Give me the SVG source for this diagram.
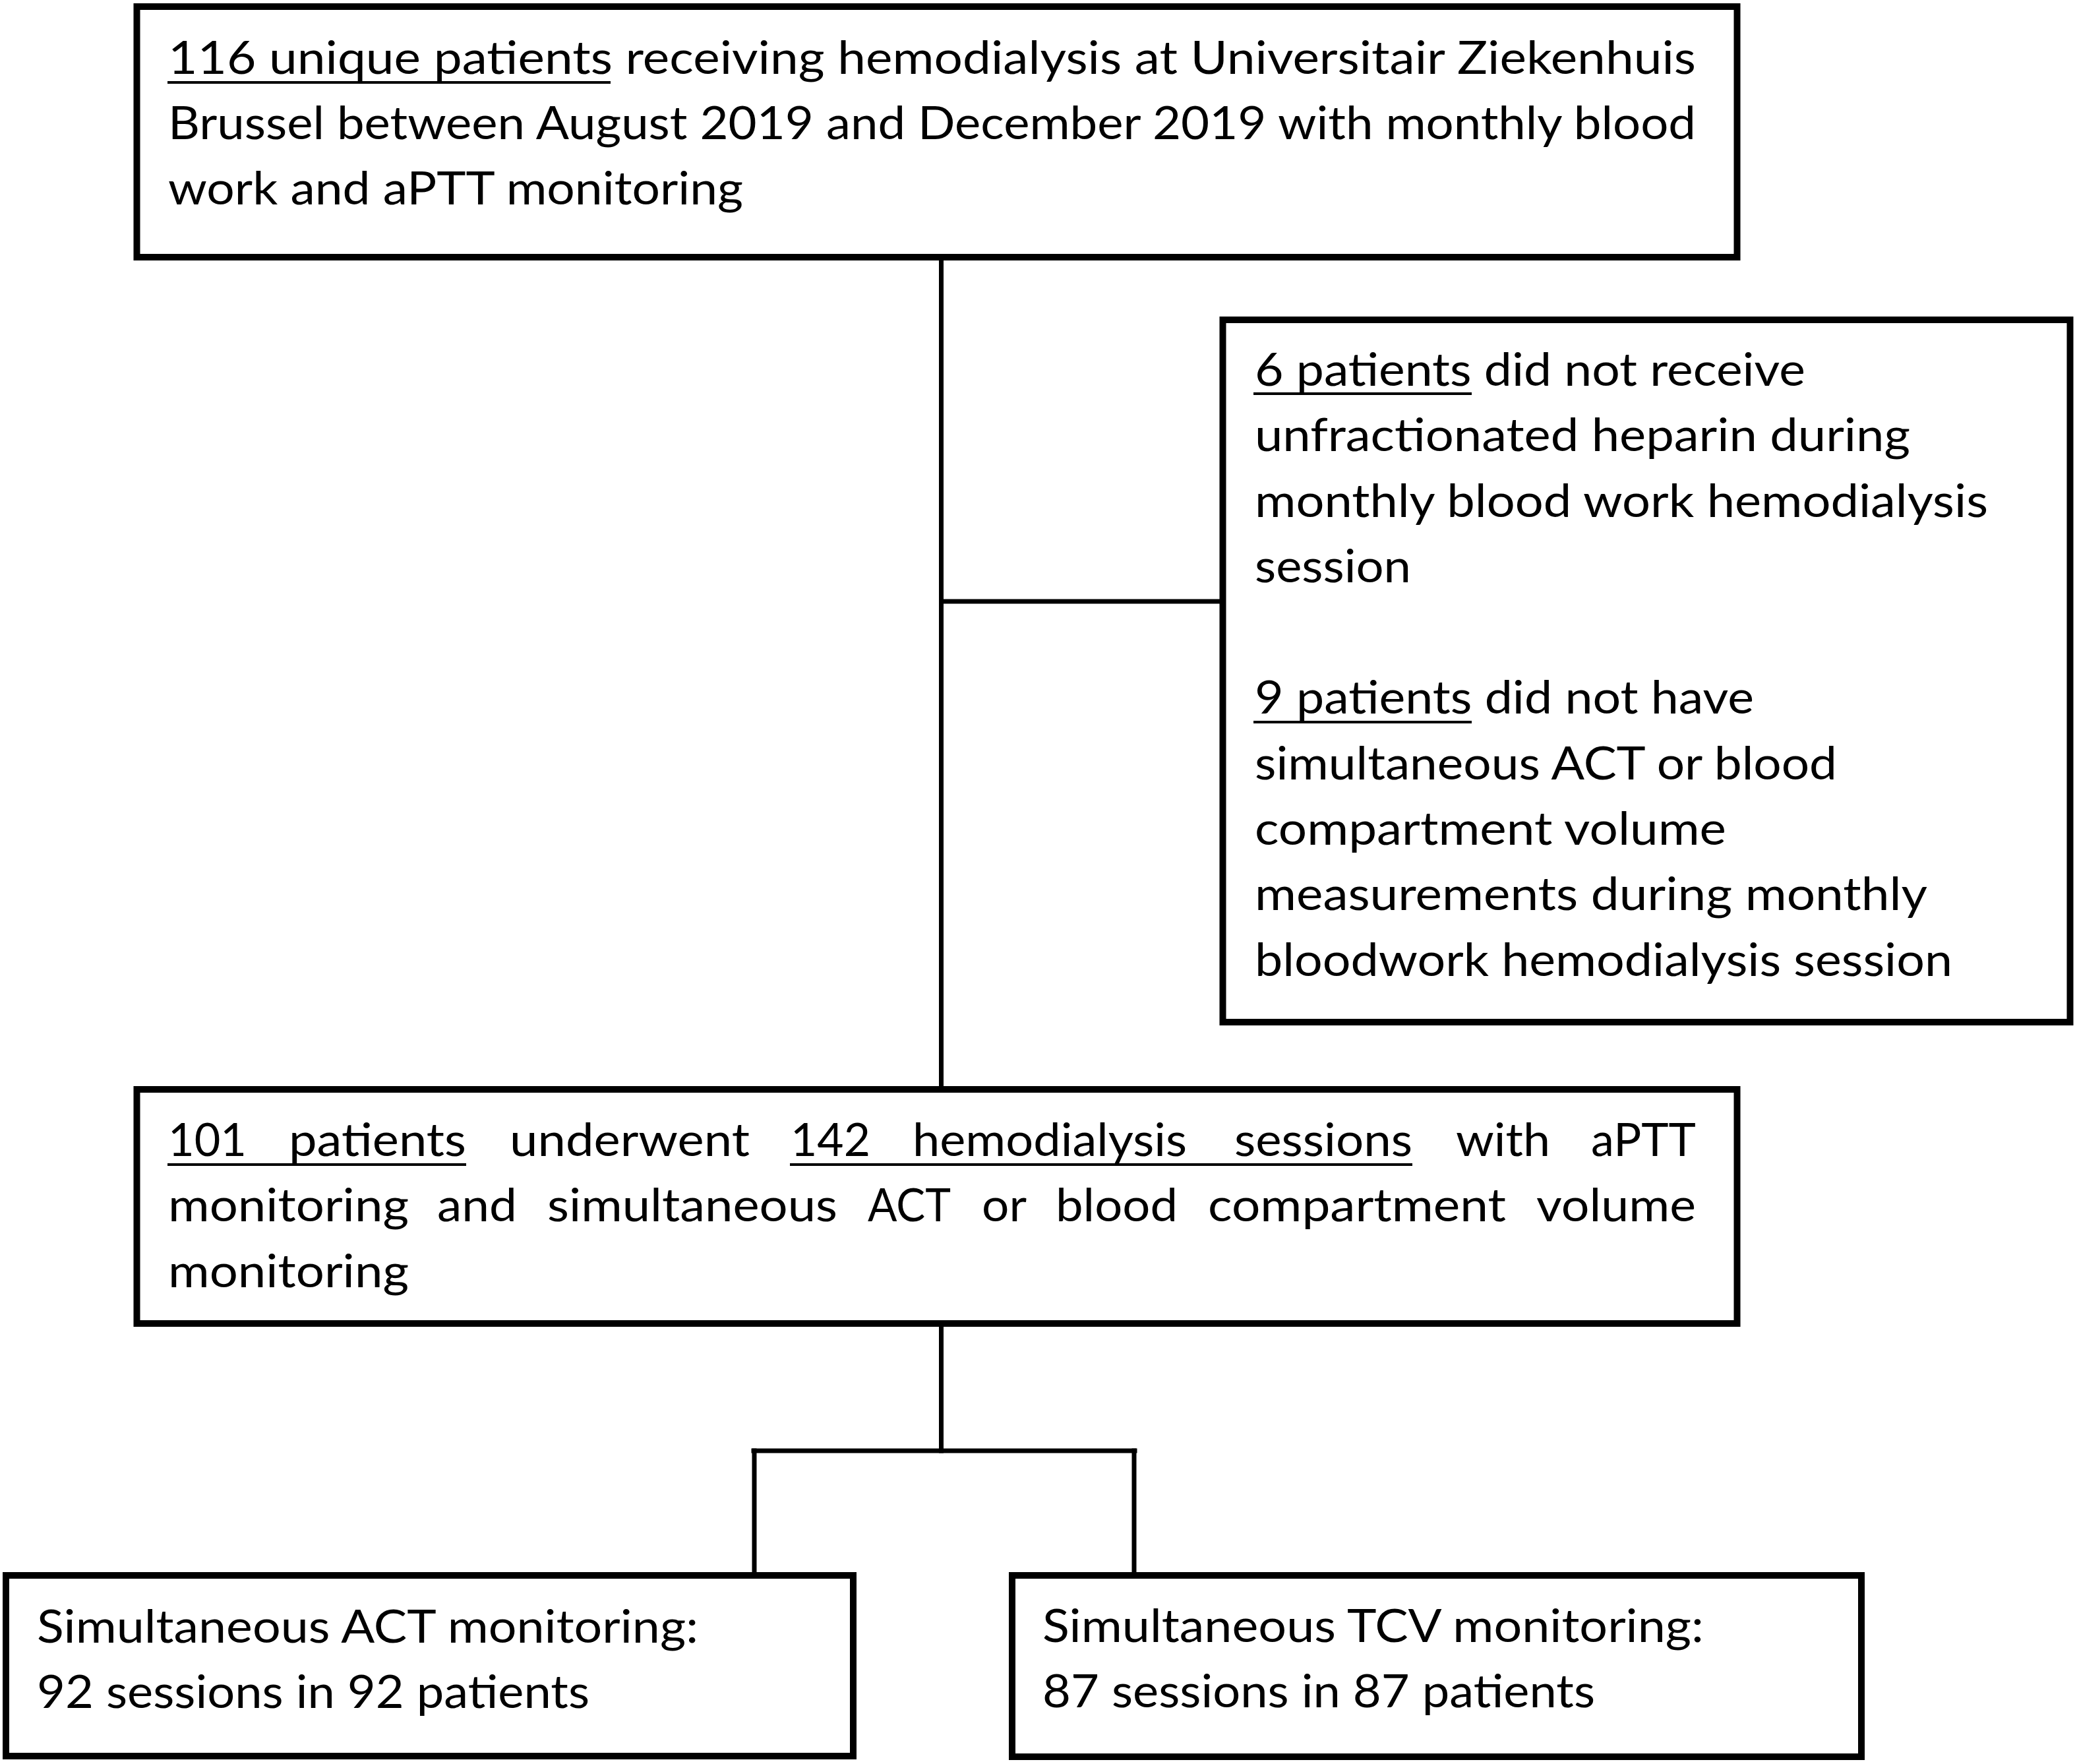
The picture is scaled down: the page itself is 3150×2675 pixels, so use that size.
<svg xmlns="http://www.w3.org/2000/svg" width="3150" height="2675" viewBox="0 0 3150 2675">
<style>
.box{fill:#fff;stroke:#000;stroke-width:10}
.conn{stroke:#000;stroke-width:7;fill:none;stroke-linecap:square}
.ul{stroke:#000;stroke-width:4}
text{font-family:Lato,"Open Sans","Liberation Sans",sans-serif;font-size:70px;fill:#000}
</style>
<rect width="3150" height="2675" fill="#fff"/>
<g id="connectors">
<line class="conn" x1="1427.5" y1="390" x2="1427.5" y2="1652"/>
<line class="conn" x1="1427.5" y1="912" x2="1854" y2="912"/>
<line class="conn" x1="1427.5" y1="2007" x2="1427.5" y2="2200"/>
<line class="conn" x1="1143" y1="2200" x2="1721" y2="2200"/>
<line class="conn" x1="1144" y1="2200" x2="1144" y2="2389"/>
<line class="conn" x1="1720" y1="2200" x2="1720" y2="2389"/>
</g>
<g id="node-top">
<rect class="box" x="207.5" y="10" width="2427" height="380"/>
<text x="255" y="112" textLength="2317" lengthAdjust="spacingAndGlyphs">116 unique patients receiving hemodialysis at Universitair Ziekenhuis</text>
<text x="255" y="211" textLength="2317" lengthAdjust="spacingAndGlyphs">Brussel between August 2019 and December 2019 with monthly blood</text>
<text x="255" y="310" textLength="872" lengthAdjust="spacingAndGlyphs">work and aPTT monitoring</text>
<line class="ul" x1="254" y1="125" x2="926" y2="125"/>
</g>
<g id="node-excluded">
<rect class="box" x="1854.5" y="485" width="1285" height="1065"/>
<text x="1903" y="585" textLength="835" lengthAdjust="spacingAndGlyphs">6 patients did not receive</text>
<text x="1903" y="684" textLength="994" lengthAdjust="spacingAndGlyphs">unfractionated heparin during</text>
<text x="1903" y="784" textLength="1112" lengthAdjust="spacingAndGlyphs">monthly blood work hemodialysis</text>
<text x="1903" y="883" textLength="237" lengthAdjust="spacingAndGlyphs">session</text>
<text x="1903" y="1082" textLength="757" lengthAdjust="spacingAndGlyphs">9 patients did not have</text>
<text x="1903" y="1182" textLength="883" lengthAdjust="spacingAndGlyphs">simultaneous ACT or blood</text>
<text x="1903" y="1281" textLength="715" lengthAdjust="spacingAndGlyphs">compartment volume</text>
<text x="1903" y="1380" textLength="1020" lengthAdjust="spacingAndGlyphs">measurements during monthly</text>
<text x="1903" y="1480" textLength="1058" lengthAdjust="spacingAndGlyphs">bloodwork hemodialysis session</text>
<line class="ul" x1="1901" y1="597" x2="2232" y2="597"/>
<line class="ul" x1="1901" y1="1095" x2="2232" y2="1095"/>
</g>
<g id="node-included">
<rect class="box" x="207.5" y="1652" width="2427" height="355"/>
<text x="255" y="1753" textLength="119" lengthAdjust="spacingAndGlyphs">101</text>
<text x="438" y="1753" textLength="269" lengthAdjust="spacingAndGlyphs">patients</text>
<text x="773" y="1753" textLength="364" lengthAdjust="spacingAndGlyphs">underwent</text>
<text x="1199" y="1753" textLength="121" lengthAdjust="spacingAndGlyphs">142</text>
<text x="1384" y="1753" textLength="416" lengthAdjust="spacingAndGlyphs">hemodialysis</text>
<text x="1872" y="1753" textLength="270" lengthAdjust="spacingAndGlyphs">sessions</text>
<text x="2208" y="1753" textLength="143" lengthAdjust="spacingAndGlyphs">with</text>
<text x="2413" y="1753" textLength="159" lengthAdjust="spacingAndGlyphs">aPTT</text>
<text x="255" y="1852" textLength="365" lengthAdjust="spacingAndGlyphs">monitoring</text>
<text x="663" y="1852" textLength="121" lengthAdjust="spacingAndGlyphs">and</text>
<text x="830" y="1852" textLength="440" lengthAdjust="spacingAndGlyphs">simultaneous</text>
<text x="1316" y="1852" textLength="126" lengthAdjust="spacingAndGlyphs">ACT</text>
<text x="1489" y="1852" textLength="68" lengthAdjust="spacingAndGlyphs">or</text>
<text x="1601" y="1852" textLength="185" lengthAdjust="spacingAndGlyphs">blood</text>
<text x="1832" y="1852" textLength="452" lengthAdjust="spacingAndGlyphs">compartment</text>
<text x="2330" y="1852" textLength="242" lengthAdjust="spacingAndGlyphs">volume</text>
<text x="255" y="1952" textLength="365" lengthAdjust="spacingAndGlyphs">monitoring</text>
<line class="ul" x1="254" y1="1766" x2="707" y2="1766"/>
<line class="ul" x1="1198" y1="1766" x2="2142" y2="1766"/>
</g>
<g id="node-act">
<rect class="box" x="9" y="2389" width="1285" height="274"/>
<text x="56" y="2491" textLength="1003" lengthAdjust="spacingAndGlyphs">Simultaneous ACT monitoring:</text>
<text x="56" y="2590" textLength="838" lengthAdjust="spacingAndGlyphs">92 sessions in 92 patients</text>
</g>
<g id="node-tcv">
<rect class="box" x="1535" y="2389" width="1288" height="275"/>
<text x="1581" y="2490" textLength="1003" lengthAdjust="spacingAndGlyphs">Simultaneous TCV monitoring:</text>
<text x="1581" y="2589" textLength="838" lengthAdjust="spacingAndGlyphs">87 sessions in 87 patients</text>
</g>
</svg>
